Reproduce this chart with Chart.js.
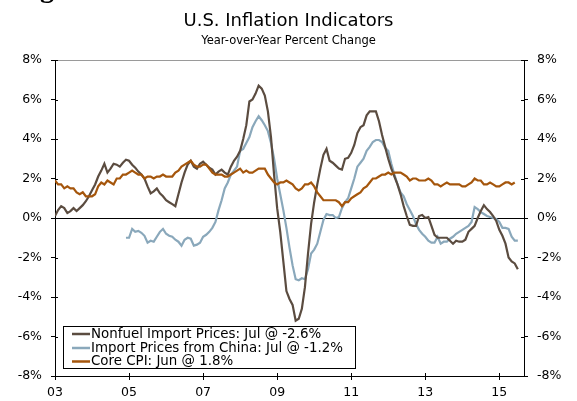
<!DOCTYPE html>
<html>
<head>
<meta charset="utf-8">
<script src="https://cdn.jsdelivr.net/npm/chart.js@4.4.1/dist/chart.umd.min.js"></script>
<style>
  html, body { margin: 0; padding: 0; background: #fff; }
  #wrap { width: 577px; height: 401px; position: relative; }
</style>
</head>
<body>
<div id="wrap"><canvas id="chartInflacao"></canvas></div>
<script>
// meses contados a partir de jan/2003 (0 = jan/03)
const inicioNonfuel = 0
const inicioChina = 23   // dez/2004
const inicioCpi = 0

const xTickMeses = [0, 24, 48, 72, 96, 120, 144]
const xTickLabels = ['03', '05', '07', '09', '11', '13', '15']

// Nonfuel Import Prices, a/a %
const nonfuel = [
    0.1, 0.4, 0.6, 0.5, 0.25, 0.35, 0.5, 0.35, 0.5, 0.65, 0.85, 1.1,
    1.4, 1.7, 2.1, 2.4, 2.75, 2.3, 2.5, 2.75, 2.7, 2.6, 2.8, 2.95,
    2.9, 2.7, 2.55, 2.35, 2.2, 2.0, 1.6, 1.25, 1.35, 1.5, 1.25, 1.1,
    0.9, 0.8, 0.7, 0.6, 1.2, 1.8, 2.3, 2.7, 2.9, 2.6, 2.5, 2.75,
    2.85, 2.7, 2.55, 2.45, 2.2, 2.35, 2.45, 2.3, 2.2, 2.6, 2.9, 3.1,
    3.4, 4.0, 4.7, 5.9, 6.0, 6.3, 6.7, 6.55, 6.2, 5.4, 4.1, 2.2,
    0.5, -0.7, -2.2, -3.7, -4.1, -4.4, -5.2, -5.1, -4.6, -3.5, -1.8, -0.3,
    0.8, 1.7, 2.5, 3.2, 3.5, 2.9, 2.8, 2.65, 2.5, 2.45, 3.0, 3.05,
    3.3, 3.7, 4.3, 4.6, 4.7, 5.2, 5.4, 5.4, 5.4, 4.9, 4.2, 3.6,
    3.0, 2.5, 2.1, 1.7, 1.2, 0.6, 0.1, -0.35, -0.4, -0.4, 0.1, 0.15,
    0.0, 0.05, -0.4, -0.85, -1.0, -1.0, -1.0, -1.0, -1.15, -1.3, -1.15, -1.2,
    -1.2, -1.1, -0.7, -0.55, -0.4, 0.0, 0.35, 0.65, 0.45, 0.3, 0.1, -0.15,
    -0.6, -0.9, -1.3, -2.0, -2.2, -2.3, -2.6
]

// Import Prices from China, a/a %
const china = [
    -1.0,
    -1.0, -0.55, -0.7, -0.65, -0.75, -0.9, -1.25, -1.15, -1.2, -0.95, -0.7, -0.55,
    -0.8, -0.9, -0.95, -1.1, -1.2, -1.4, -1.1, -1.0, -1.05, -1.4, -1.35, -1.25,
    -0.95, -0.85, -0.7, -0.5, -0.2, 0.4, 0.9, 1.5, 1.8, 2.2, 2.4, 2.6,
    3.4, 3.5, 3.8, 4.1, 4.6, 4.9, 5.15, 4.95, 4.7, 4.4, 3.8, 3.0,
    2.0, 1.2, 0.4, -0.5, -1.5, -2.4, -3.1, -3.15, -3.05, -3.1, -2.6, -1.8,
    -1.6, -1.3, -0.7, -0.1, 0.2, 0.15, 0.15, 0.0, 0.05, 0.5, 0.8, 1.0,
    1.5, 2.0, 2.6, 2.8, 3.0, 3.4, 3.6, 3.85, 3.95, 3.95, 3.85, 3.55,
    3.4, 2.75, 2.2, 1.7, 1.3, 1.1, 0.7, 0.4, 0.1, -0.3, -0.6, -0.8,
    -0.95, -1.15, -1.25, -1.25, -0.95, -1.3, -1.2, -1.2, -1.05, -0.95, -0.8, -0.7,
    -0.6, -0.5, -0.4, -0.2, 0.55, 0.45, 0.3, 0.2, 0.1, 0.05, 0.0, -0.05,
    -0.2, -0.5, -0.5, -0.55, -0.95, -1.15, -1.15
]

// Core CPI, a/a %
const coreCpi = [
    1.9, 1.7, 1.7, 1.5, 1.6, 1.5, 1.5, 1.3, 1.2, 1.3, 1.1, 1.1,
    1.1, 1.2, 1.6, 1.8, 1.7, 1.9, 1.8, 1.7, 2.0, 2.0, 2.2, 2.2,
    2.3, 2.4, 2.3, 2.2, 2.2, 2.0, 2.1, 2.1, 2.0, 2.1, 2.1, 2.2,
    2.1, 2.1, 2.1, 2.3, 2.4, 2.6, 2.7, 2.8, 2.9, 2.7, 2.6, 2.6,
    2.7, 2.7, 2.5, 2.3, 2.2, 2.2, 2.2, 2.1, 2.1, 2.2, 2.3, 2.4,
    2.5, 2.3, 2.4, 2.3, 2.3, 2.4, 2.5, 2.5, 2.5, 2.2, 2.0, 1.8,
    1.7, 1.8, 1.8, 1.9, 1.8, 1.7, 1.5, 1.4, 1.5, 1.7, 1.7, 1.8,
    1.6, 1.3, 1.1, 0.9, 0.9, 0.9, 0.9, 0.9, 0.8, 0.6, 0.8, 0.8,
    1.0, 1.1, 1.2, 1.3, 1.5, 1.6, 1.8, 2.0, 2.0, 2.1, 2.2, 2.2,
    2.3, 2.2, 2.3, 2.3, 2.3, 2.2, 2.1, 1.9, 2.0, 2.0, 1.9, 1.9,
    1.9, 2.0, 1.9, 1.7, 1.7, 1.6, 1.7, 1.8, 1.7, 1.7, 1.7, 1.7,
    1.6, 1.6, 1.7, 1.8, 2.0, 1.9, 1.9, 1.7, 1.7, 1.8, 1.7, 1.6,
    1.6, 1.7, 1.8, 1.8, 1.7, 1.8
]

const legendas = [
    'Nonfuel Import Prices: Jul @ -2.6%',
    'Import Prices from China: Jul @ -1.2%',
    'Core CPI: Jun @ 1.8%'
]
const cores = ['#5b4c40', '#8aa8bb', '#a5560c']

function paraPontos(valores, inicio) {
    return valores.map((v, i) => ({ x: inicio + i, y: v }))
}

const fonte = 'DejaVu Sans'

// desenha os ticks cruzando os eixos (parte interna)
const ticksInternos = {
    id: 'ticksInternos',
    afterDatasetsDraw(chart) {
        const { ctx, chartArea, scales } = chart
        ctx.save()
        ctx.strokeStyle = '#000'
        ctx.lineWidth = 1
        ctx.beginPath()
        scales.y.ticks.forEach(t => {
            const py = Math.round(scales.y.getPixelForValue(t.value)) + 0.5
            ctx.moveTo(chartArea.left, py)
            ctx.lineTo(chartArea.left + 3, py)
            ctx.moveTo(chartArea.right - 3, py)
            ctx.lineTo(chartArea.right, py)
        })
        scales.x.ticks.forEach(t => {
            const px = Math.round(scales.x.getPixelForValue(t.value)) + 0.5
            ctx.moveTo(px, chartArea.bottom)
            ctx.lineTo(px, chartArea.bottom - 3)
        })
        ctx.stroke()
        ctx.restore()
    }
}

// caixa de legenda dentro do grafico
const legendaCaixa = {
    id: 'legendaCaixa',
    afterDatasetsDraw(chart) {
        const { ctx, chartArea } = chart
        const x0 = chartArea.left + 8
        const y0 = chartArea.bottom - 50
        ctx.save()
        ctx.fillStyle = '#fff'
        ctx.fillRect(x0, y0, 292, 42)
        ctx.strokeStyle = '#000'
        ctx.lineWidth = 1
        ctx.strokeRect(x0 + 0.5, y0 + 0.5, 292, 42)
        ctx.font = '13.4px "' + fonte + '"'
        ctx.textBaseline = 'middle'
        const linhas = [8, 22, 35.5]
        legendas.forEach((txt, i) => {
            const yy = y0 + linhas[i]
            ctx.strokeStyle = cores[i]
            ctx.lineWidth = 2.5
            ctx.beginPath()
            ctx.moveTo(x0 + 9, yy)
            ctx.lineTo(x0 + 27, yy)
            ctx.stroke()
            ctx.fillStyle = '#000'
            ctx.fillText(txt, x0 + 28, yy + 0.5)
        })
        ctx.restore()
    }
}

// pedaco do titulo da pagina que aparece cortado no topo
const textoCortado = {
    id: 'textoCortado',
    afterDraw(chart) {
        const ctx = chart.ctx
        ctx.save()
        ctx.fillStyle = '#000'
        ctx.font = 'bold 28px "Liberation Serif"'
        ctx.textBaseline = 'alphabetic'
        ctx.fillText('g', 40, -3)
        ctx.restore()
    }
}

document.addEventListener('DOMContentLoaded', () => {
    const ctxInflacao = document.getElementById('chartInflacao')

    const escalaY = {
        min: -8,
        max: 8,
        border: { display: true, color: '#000', width: 1 },
        ticks: {
            stepSize: 2,
            padding: 9,
            color: '#000',
            font: { family: fonte, size: 12.5 },
            callback: v => v + '%'
        }
    }

    new Chart(ctxInflacao, {
        type: 'line',
        data: {
            datasets: [
                {
                    label: legendas[0],
                    data: paraPontos(nonfuel, inicioNonfuel),
                    borderColor: cores[0],
                    borderWidth: 2.2,
                    pointRadius: 0,
                    tension: 0,
                    order: 1
                },
                {
                    label: legendas[1],
                    data: paraPontos(china, inicioChina),
                    borderColor: cores[1],
                    borderWidth: 2.2,
                    pointRadius: 0,
                    tension: 0,
                    order: 2
                },
                {
                    label: legendas[2],
                    data: paraPontos(coreCpi, inicioCpi),
                    borderColor: cores[2],
                    borderWidth: 2.2,
                    pointRadius: 0,
                    tension: 0,
                    order: 0
                }
            ]
        },
        options: {
            responsive: true,
            maintainAspectRatio: false,
            animation: false,
            layout: { padding: { left: 0, right: 0, top: 0, bottom: 0 } },
            plugins: {
                legend: { display: false },
                tooltip: { enabled: false },
                title: {
                    display: true,
                    text: 'U.S. Inflation Indicators',
                    color: '#000',
                    font: { family: fonte, size: 18, weight: 'normal', lineHeight: '20px' },
                    padding: { top: 11, bottom: 0 }
                },
                subtitle: {
                    display: true,
                    text: 'Year-over-Year Percent Change',
                    color: '#000',
                    font: { family: fonte, size: 11.5, lineHeight: '14px' },
                    padding: { top: 3, bottom: 12 }
                }
            },
            scales: {
                x: {
                    type: 'linear',
                    min: 0,
                    max: 152,
                    border: { display: true, color: '#000', width: 1 },
                    grid: { drawOnChartArea: false, tickLength: 4, tickColor: '#000' },
                    afterBuildTicks: s => { s.ticks = xTickMeses.map(v => ({ value: v })) },
                    afterFit: s => { s.height = 25 },
                    ticks: {
                        padding: 5,
                        color: '#000',
                        maxRotation: 0,
                        font: { family: fonte, size: 12.5 },
                        callback: v => xTickLabels[xTickMeses.indexOf(v)]
                    }
                },
                y: {
                    ...escalaY,
                    position: 'left',
                    afterFit: s => { s.width = 55 },
                    grid: {
                        drawOnChartArea: true,
                        tickLength: 4,
                        tickColor: '#000',
                        color: c => c.tick.value === 0 ? '#000' : (c.tick.value === 8 ? '#9a9a9a' : 'rgba(0,0,0,0)')
                    }
                },
                y2: {
                    ...escalaY,
                    position: 'right',
                    afterFit: s => { s.width = 53 },
                    grid: { drawOnChartArea: false, tickLength: 4, tickColor: '#000' }
                }
            }
        },
        plugins: [ticksInternos, legendaCaixa, textoCortado]
    })
})
</script>
</body>
</html>
